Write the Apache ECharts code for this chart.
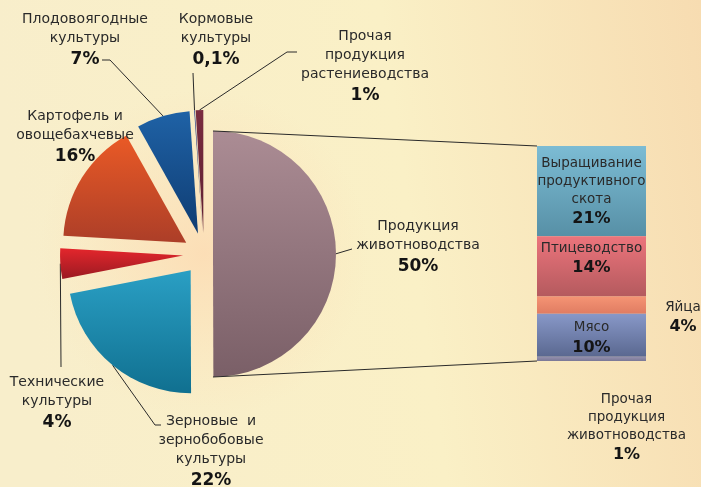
<!DOCTYPE html>
<html><head><meta charset="utf-8">
<script src="https://cdn.jsdelivr.net/npm/echarts@6/dist/echarts.min.js"></script>
<style>html,body{margin:0;padding:0;background:#f9efc6;}#c{width:701px;height:487px;}</style>
</head><body><div id="c"></div>
<script>
// ---- data ----
const pieNames = ['Продукция\nживотноводства', 'Зерновые  и\nзернобобовые\nкультуры', 'Технические\nкультуры', 'Картофель и\nовощебахчевые', 'Плодовоягодные\nкультуры', 'Кормовые\nкультуры', 'Прочая\nпродукция\nрастениеводства'];
const pieValues = [50, 22, 4, 16, 7, 0.1, 1];
const barNames = ['Выращивание\nпродуктивного\nскота', 'Птицеводство', 'Яйца', 'Мясо', 'Прочая\nпродукция\nживотноводства'];
const barValues = [21, 14, 4, 10, 1];

// ---- styles / layout ----
const pieColors = [['#ab8c94', '#7a5f67'], ['#2a9fc4', '#107090'], ['#e4262c', '#9a1a22'], ['#ea5a26', '#ac3e28'], ['#1f62a6', '#0f3c72'], ['#2a3f8c', '#1a2a66'], ['#7a2c40', '#5e1e30']];
const barColors = [['#7cbcd4', '#5790a6'], ['#ec747c', '#b45a5e'], ['#f59474', '#e07c62'], ['#8898c8', '#5a6890'], ['#9490ae', '#7a7896']];
const pieLabelPos = [[418, 248], [211, 452], [57, 404], [75, 138], [85, 41], [216, 41], [365, 67]];
const pieLineMid = [[352, 249], [155, 425], [61, 367], null, [110, 60], [193, 73], [287, 52]];
const pieLineEnd = [[352, 249], [161, 425], [61, 367], null, [102, 60], [193, 73], [297, 52]];
const explode = [9, 21, 21, 21, 21, 21, 21];
const PIE_C = [204, 254], R = 123;
const FONT = 'DejaVu Sans';

function pct(v) { return String(v).replace('.', ',') + '%'; }
function vgrad(c) {
  return { type: 'linear', x: 0, y: 0, x2: 0, y2: 1, colorStops: [{ offset: 0, color: c[0] }, { offset: 1, color: c[1] }] };
}
const rich = {
  n: { fontFamily: FONT, fontSize: 14, lineHeight: 19, color: '#2a2a2a' },
  p: { fontFamily: FONT, fontSize: 17, fontWeight: 'bold', lineHeight: 24, color: '#141414' }
};
const richBar = {
  n: { fontFamily: FONT, fontSize: 13.5, lineHeight: 18, color: '#2a2a2a' },
  p: { fontFamily: FONT, fontSize: 16, fontWeight: 'bold', lineHeight: 22, color: '#141414' }
};
const labelFmt = function (p) { return '{n|' + p.name + '}\n{p|' + pct(p.value) + '}'; };
const hidden = { itemStyle: { color: 'rgba(0,0,0,0)' }, label: { show: false }, labelLine: { show: false } };

const total = pieValues.reduce(function (a, b) { return a + b; }, 0);
const series = [];
let cum = 0;
pieValues.forEach(function (v, i) {
  const mid = (cum + v / 2) / total * 2 * Math.PI;
  cum += v;
  const center = [PIE_C[0] + explode[i] * Math.sin(mid), PIE_C[1] - explode[i] * Math.cos(mid)];
  const data = pieValues.map(function (w, j) {
    if (j !== i) return Object.assign({ name: 'x' + j, value: w }, hidden);
    return { name: pieNames[j], value: w, itemStyle: { color: vgrad(pieColors[j]) }, labelLine: { show: pieLineMid[j] != null } };
  });
  series.push({
    type: 'pie', radius: R, center: center, startAngle: 90, clockwise: true, silent: true,
    avoidLabelOverlap: false, animation: false, data: data,
    label: { show: true, position: 'outside', formatter: labelFmt, rich: rich, align: 'center', overflow: 'none', bleedMargin: 0, edgeDistance: 0 },
    labelLine: { show: true, length: 10, length2: 10, lineStyle: { color: '#2a2a2a', width: 1 } },
    emphasis: { disabled: true },
    labelLayout: function (params) {
      if (params.dataIndex !== i) return {};
      const out = { x: pieLabelPos[i][0], y: pieLabelPos[i][1], align: 'center', verticalAlign: 'middle' };
      if (pieLineMid[i] && params.labelLinePoints) {
        out.labelLinePoints = [params.labelLinePoints[0], pieLineMid[i], pieLineEnd[i]];
      }
      return out;
    }
  });
});

const barLabel = [
  { position: 'insideTop', distance: 8 },
  { position: 'insideTop', distance: 3 },
  { position: 'right', distance: 37, align: 'center', offset: [0, 13] },
  { position: 'insideTop', distance: 5 },
  { position: 'bottom', distance: 29, align: 'center', offset: [35, 0] }
];
barNames.forEach(function (nm, i) {
  series.push({
    type: 'bar', name: nm, stack: 's', barWidth: '100%', xAxisIndex: 0, yAxisIndex: 0,
    data: [{ name: nm, value: barValues[i] }], silent: true, animation: false,
    itemStyle: { color: vgrad(barColors[i]) },
    label: Object.assign({ show: true, formatter: labelFmt, rich: richBar, align: 'center' }, barLabel[i]),
    emphasis: { disabled: true }
  });
});

const chart = echarts.init(document.getElementById('c'), null, { renderer: 'canvas' });
chart.setOption({
  animation: false,
  backgroundColor: { type: 'linear', x: 0, y: 0.2, x2: 1, y2: 0, colorStops: [{ offset: 0, color: '#f8eecb' }, { offset: 0.55, color: '#faf0c6' }, { offset: 1, color: '#f7dcb1' }] },
  grid: { left: 537, top: 146, width: 109, height: 215, containLabel: false },
  xAxis: { type: 'category', data: [''], show: false },
  yAxis: { type: 'value', min: 0, max: 50, inverse: true, show: false },
  series: series
});

const mainC = series[0].center;
const rect = chart.getModel().getComponent('grid', 0).coordinateSystem.getRect();
const yTop = chart.convertToPixel({ gridIndex: 0 }, [0, 0])[1];
const yBot = chart.convertToPixel({ gridIndex: 0 }, [0, 50])[1];
chart.setOption({
  graphic: [
    { type: 'circle', z: -10, shape: { cx: PIE_C[0], cy: PIE_C[1], r: 165 }, silent: true,
      style: { fill: { type: 'radial', x: 0.5, y: 0.5, r: 0.5, colorStops: [{ offset: 0, color: 'rgba(252,220,180,0.9)' }, { offset: 1, color: 'rgba(252,225,185,0)' }] } } },
    { type: 'line', z: 10, silent: true, shape: { x1: mainC[0], y1: mainC[1] - R, x2: rect.x, y2: yTop }, style: { stroke: '#2a2a2a', lineWidth: 1 } },
    { type: 'line', z: 10, silent: true, shape: { x1: mainC[0], y1: mainC[1] + R, x2: rect.x, y2: yBot }, style: { stroke: '#2a2a2a', lineWidth: 1 } }
  ]
});
</script>
</body></html>
